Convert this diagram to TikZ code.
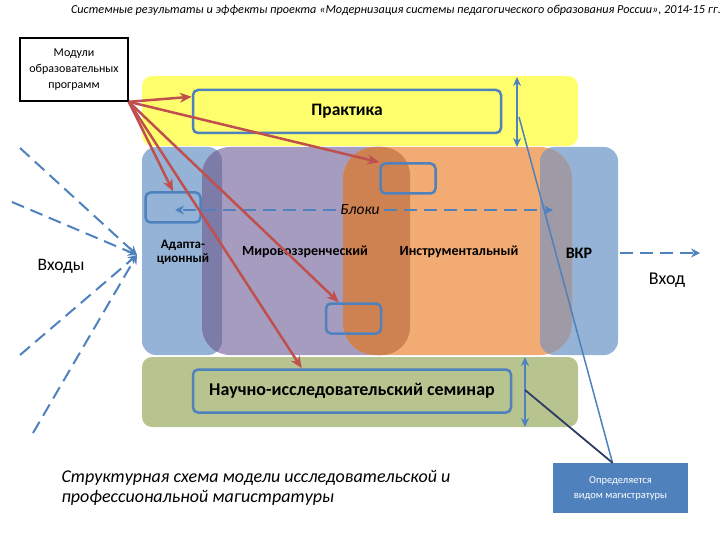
\documentclass[tikz,border=0pt]{standalone}
\usepackage{fontspec}
\setmainfont{Carlito}
\usepackage{xcolor}
\definecolor{blkblue}{RGB}{149,179,215}
\definecolor{blkpurple}{RGB}{166,156,192}
\definecolor{blkdarkpurple}{RGB}{125,124,168}
\definecolor{blkorange}{RGB}{242,171,115}
\definecolor{blkdarkorange}{RGB}{206,130,82}
\definecolor{blkgray}{RGB}{158,154,166}
\definecolor{bandyellow}{RGB}{255,255,110}
\definecolor{bandgreen}{RGB}{184,196,143}
\definecolor{accblue}{RGB}{79,129,189}
\definecolor{accred}{RGB}{192,80,77}
\definecolor{accnavy}{RGB}{45,60,100}
\usetikzlibrary{arrows.meta, positioning}

\begin{document}
\begin{tikzpicture}[x=1pt,y=-1pt,
  outline/.style={draw=accblue, line width=2.5pt, rounded corners=5pt, inner sep=0pt},
  smallbox/.style={outline, minimum width=55pt, minimum height=30pt},
  redarrow/.style={draw=accred, line width=2.5pt, -{Stealth[length=12pt,width=10pt]}},
  dasharrow/.style={draw=accblue, line width=2pt, dash pattern=on 13pt off 7pt, -{Stealth[length=9pt,width=9pt]}},
  vertarrow/.style={draw=accblue, line width=2pt, {Stealth[length=9pt,width=8pt]}-{Stealth[length=9pt,width=8pt]}},
  blklabel/.style={font=\fontsize{14}{15}\selectfont\bfseries, align=center}]
  \useasboundingbox (0,0) rectangle (720,540);

  % Title
  \node[font=\fontsize{12.2}{13}\selectfont\itshape] (title) at (396,10)
       {Системные результаты и эффекты проекта «Модернизация системы педагогического образования России», 2014-15 гг.};

  % Bands
  \fill[bandyellow, rounded corners=10pt] (142,76) rectangle (578,146);
  \fill[bandgreen,  rounded corners=10pt] (142,357) rectangle (578,427);

  % Blocks
  \fill[blkblue,   rounded corners=14pt] (540,147) rectangle (618,355);
  \fill[blkblue,   rounded corners=14pt] (142,147) rectangle (222,355);
  \fill[blkpurple, rounded corners=28pt] (202,147) rectangle (410,355);
  \fill[blkorange, rounded corners=32pt] (343,147) rectangle (572,355);
  % overlaps
  \begin{scope}
    \clip[rounded corners=14pt] (142,147) rectangle (222,355);
    \fill[blkdarkpurple, rounded corners=28pt] (202,147) rectangle (410,355);
  \end{scope}
  \begin{scope}
    \clip[rounded corners=28pt] (202,147) rectangle (410,355);
    \fill[blkdarkorange, rounded corners=32pt] (343,147) rectangle (572,355);
  \end{scope}
  \begin{scope}
    \clip[rounded corners=32pt] (343,147) rectangle (572,355);
    \fill[blkgray, rounded corners=14pt] (540,147) rectangle (618,355);
  \end{scope}

  % Modules box
  \node[draw=black, line width=1.6pt, fill=white, minimum width=108pt, minimum height=63pt,
        align=center, font=\fontsize{12}{16}\selectfont] (moduli) at (74,69.5)
       {Модули\\образовательных\\программ};

  % Outline boxes
  \node[outline, minimum width=308pt, minimum height=43pt, font=\fontsize{17.5}{19}\selectfont\bfseries]
       (praktika) at (347,111.5) {Практика};
  \node[outline, minimum width=318pt, minimum height=43pt, font=\fontsize{18}{20}\selectfont]
       (seminar) at (352,391) {\textbf{Научно-исследовательский семинар}};
  \node[smallbox] (boxad)  at (173,207.5) {};
  \node[smallbox] (boxtop) at (408,178.5) {};
  \node[smallbox] (boxlow) at (353.5,318.5) {};

  % Block labels
  \node[font=\fontsize{15.5}{16}\selectfont\itshape, inner sep=4pt] (bloki) at (360,210) {Блоки};
  \node[blklabel, font=\fontsize{13}{14}\selectfont\bfseries] (adapt) at (183,252) {Адапта-\\ционный};
  \node[blklabel] (mirov) at (305,252) {Мировоззренческий};
  \node[blklabel] (instr) at (459,252) {Инструментальный};
  \node[blklabel, font=\fontsize{16}{18}\selectfont\bfseries] (vkr) at (579,253) {ВКР};
  \node[font=\fontsize{17.5}{19}\selectfont] (vhody) at (61,266) {Входы};
  \node[font=\fontsize{18}{20}\selectfont] (vhod) at (667,280) {Вход};

  % Blocks arrow
  \coordinate (blkleft)  at (175,210);
  \coordinate (blkright) at (553,210);
  \draw[dasharrow] (bloki.west) -- (blkleft);
  \draw[dasharrow] (bloki.east) -- (blkright);

  % Inputs
  \coordinate (inpt) at (137,255);
  \coordinate (in1) at (20,148);
  \coordinate (in2) at (12,202);
  \coordinate (in3) at (20,355);
  \coordinate (in4) at (33,433);
  \foreach \c in {in1,in2,in3,in4}
    \draw[dasharrow] (\c) -- (inpt);

  % Output
  \coordinate (out1) at (620,253);
  \coordinate (out2) at (700,253);
  \draw[dasharrow] (out1) -- (out2);

  % Vertical arrows
  \coordinate (prtop) at (517,77);
  \coordinate (prbot) at (517,147);
  \coordinate (prmid) at (519,117);
  \coordinate (semtop) at (525,357);
  \coordinate (sembot) at (525,427);
  \coordinate (semmid) at (525,390);
  \draw[vertarrow] (prtop) -- (prbot);
  \draw[vertarrow] (semtop) -- (sembot);

  % Note box
  \node[fill=accblue, text=white, minimum width=135pt, minimum height=50pt, align=center,
        font=\fontsize{10.5}{15}\selectfont] (opred) at (620.5,488)
       {Определяется\\видом магистратуры};
  \draw[accblue, line width=1.5pt] (prmid) -- ([xshift=-8pt]opred.north);
  \draw[accnavy, line width=1.8pt] (semmid) -- ([xshift=-8pt]opred.north);

  % Caption
  \node[anchor=west, align=left, font=\fontsize{18}{20}\selectfont\itshape] (caption) at (58,488)
       {Структурная схема модели исследовательской и\\профессиональной магистратуры};

  % Module links
  \draw[redarrow] (moduli.south east) -- ([yshift=-8pt]praktika.north west);
  \draw[redarrow] (moduli.south east) -- (boxtop.north west);
  \draw[redarrow] (moduli.south east) -- (boxad.north);
  \draw[redarrow] (moduli.south east) -- ([xshift=110pt]seminar.north west);
  \draw[redarrow] (moduli.south east) -- ([xshift=14pt]boxlow.north west);
\end{tikzpicture}
\end{document}
